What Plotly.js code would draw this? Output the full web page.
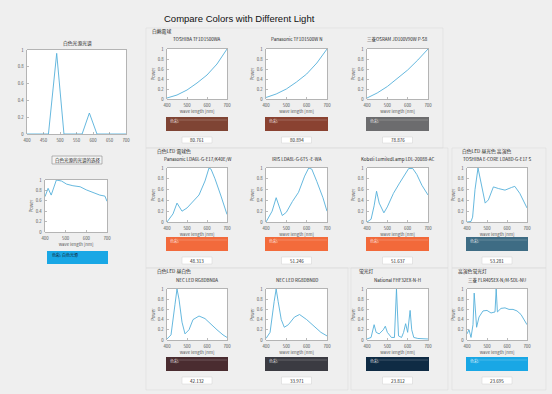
<!DOCTYPE html>
<html><head><meta charset="utf-8">
<script src="https://cdn.plot.ly/plotly-3.0.1.min.js"></script>
<style>html,body{margin:0;padding:0;background:#efefef;}#chart{width:552px;height:394px;}</style>
</head><body><div id="chart"></div>
<script>
// ---------------- DATA ----------------
const srcWl  = [400,465,490,512,567,589,612,700];
const srcPow = [0,0,0.96,0,0,0.25,0,0];

const whiteWl  = [400,415,430,455,480,505,535,570,600,630,665,690,700];
const whitePow = [0.68,0.84,0.71,1.0,0.98,0.92,0.89,0.87,0.81,0.76,0.71,0.69,0.59];

const incWl = [400,450,500,550,600,650,700];
const incToshiba   = [0.02,0.08,0.18,0.32,0.48,0.70,1.0];
const incPanasonic = [0.03,0.10,0.20,0.34,0.50,0.72,1.0];
const incMitsu     = [0.02,0.12,0.25,0.41,0.58,0.78,1.0];

const led1Wl  = [400,430,450,460,475,500,530,560,590,610,620,640,670,700];
const led1Pow = [0,0.15,0.35,0.28,0.2,0.26,0.38,0.5,0.76,1.0,0.98,0.8,0.48,0.14];
const led2Wl  = [400,430,450,465,480,500,530,560,590,610,625,650,680,700];
const led2Pow = [0,0.2,0.45,0.3,0.12,0.18,0.38,0.55,0.85,1.0,0.98,0.75,0.45,0.2];
const led3Wl  = [400,420,435,447,460,483,500,530,560,590,605,625,645,670,700];
const led3Pow = [0,0.05,0.3,0.57,0.35,0.17,0.28,0.53,0.72,0.9,0.99,0.99,0.88,0.68,0.5];
const led4Wl  = [400,420,428,440,455,474,491,507,532,557,590,623,639,664,700];
const led4Pow = [0,0.01,0.09,0.6,1.0,0.65,0.35,0.41,0.65,0.62,0.59,0.64,0.66,0.53,0.26];

const nw1Wl  = [400,420,440,450,460,475,490,510,530,560,590,620,650,680,700];
const nw1Pow = [0.02,0.1,0.7,1.0,0.8,0.35,0.12,0.2,0.4,0.47,0.42,0.3,0.2,0.1,0.05];
const nw2Wl  = [400,420,440,450,460,475,490,510,540,565,600,640,670,700];
const nw2Pow = [0.03,0.15,0.75,1.0,0.75,0.4,0.25,0.3,0.45,0.5,0.4,0.25,0.15,0.08];

const flWl  = [400,420,435,445,460,480,490,500,520,535,545,555,570,580,590,600,612,620,630,650,700];
const flPow = [0.02,0.05,0.3,0.15,0.12,0.2,0.27,0.15,0.05,0.05,1.0,0.08,0.05,0.15,0.32,0.15,0.58,0.2,0.05,0.03,0.02];
const hfWl  = [400,410,420,430,436,442,448,460,480,500,520,540,546,552,570,590,610,630,650,670,690,700];
const hfPow = [0.12,0.2,0.05,0.3,0.92,0.5,0.25,0.45,0.57,0.58,0.53,0.55,1.0,0.55,0.62,0.63,0.6,0.6,0.57,0.5,0.38,0.3];

const groupLabels = ['白熱電球','白色LED 電球色','白色LED 昼光色 高演色','白色LED 昼白色','蛍光灯','高演色蛍光灯'];
const chartTitles = ['TOSHIBA TF1D1500WA','Panasonic TF1D1500W N','三菱OSRAM JD100V90W P-S8',
  'Panasonic LDA6L-G-E17/K40E/W','IRIS LDA8L-G-6T5 -E-WA','Kobeli LumiledLamp LDL-20088-AC',
  'TOSHIBA E-CORE LDA8D-G-E17 S',
  'NEC LED RG8DBN0A','NEC LED RG8DBN0D','National FHF32EX-N-H','三菱 FLR40SEX-N/M-SDL-NU'];
const colorValues = ['80.761','80.894','78.876','48.313','51.246','51.637','53.281','42.132','33.971','23.812','23.695'];
const swatchColors = ['#7f4434','#8a4231','#6c6c6e','#f26a3c','#f36b3b','#f2693a','#3e6c84','#4a2c30','#3b3b42','#0f2b44','#19a7e5'];
const xTicks = [400,500,600,700];
const xTicksSrc = [400,450,500,550,600,650,700];
const yTicks = [0,0.2,0.4,0.6,0.8,1];
const yTickText = ['0','0.2','0.4','0.6','0.8','1'];

// ---------------- LAYOUT ----------------
const W=552,H=394;
const FONT='Noto Sans CJK JP, Liberation Sans, sans-serif';
const LINE='#55b0da';
const px=(x)=>x/W, py=(y)=>1-y/H;

const series = [
  [srcWl,srcPow],[whiteWl,whitePow],
  [incWl,incToshiba],[incWl,incPanasonic],[incWl,incMitsu],
  [led1Wl,led1Pow],[led2Wl,led2Pow],[led3Wl,led3Pow],[led4Wl,led4Pow],
  [nw1Wl,nw1Pow],[nw2Wl,nw2Pow],[flWl,flPow],[hfWl,hfPow]
];
const colsX=[[167,227],[266,327],[367,428],[467,527]];
const rowsY=[[49,99],[168,222],[289,340]];
const boxes=[
  {x:[27,126],y:[50,134],src:true},
  {x:[45,107],y:[180,232]},
  {x:colsX[0],y:rowsY[0]},{x:colsX[1],y:rowsY[0]},{x:colsX[2],y:rowsY[0]},
  {x:colsX[0],y:rowsY[1]},{x:colsX[1],y:rowsY[1]},{x:colsX[2],y:rowsY[1]},{x:colsX[3],y:rowsY[1]},
  {x:colsX[0],y:rowsY[2]},{x:colsX[1],y:rowsY[2]},{x:colsX[2],y:rowsY[2]},{x:colsX[3],y:rowsY[2]}
];

const traces=[];
const layout={
  width:W,height:H,margin:{l:0,r:0,t:0,b:0},
  paper_bgcolor:'#efefef',plot_bgcolor:'#ffffff',showlegend:false,
  font:{family:FONT,color:'#333'},
  shapes:[],annotations:[]
};
const tf={size:4.3,color:'#555',family:FONT};
boxes.forEach((b,i)=>{
  const n=i===0?'':String(i+1);
  traces.push({x:series[i][0],y:series[i][1],xaxis:'x'+n,yaxis:'y'+n,mode:'lines',
    line:{color:LINE,width:0.9},hoverinfo:'skip'});
  const common={showline:true,mirror:true,linecolor:'#7a7a7a',linewidth:0.5,showgrid:false,zeroline:false,
    ticks:'inside',ticklen:2,tickwidth:0.5,tickcolor:'#777',tickfont:tf,fixedrange:true,automargin:false};
  layout['xaxis'+n]=Object.assign({},common,{domain:[px(b.x[0]),px(b.x[1])],range:[400,700],
    tickvals:b.src?xTicksSrc:xTicks,anchor:'y'+n,ticklabelstandoff:2,
    title:b.src?{text:''}:{text:'wave length [nm]',font:tf,standoff:1}});
  layout['yaxis'+n]=Object.assign({},common,{domain:[py(b.y[1]),py(b.y[0])],range:[0,1],
    tickvals:yTicks,ticktext:yTickText,anchor:'x'+n,ticklabelstandoff:2,
    title:b.src?{text:''}:{text:'Power',font:tf,standoff:1}});
});

function ann(x,y,text,size,opts){
  layout.annotations.push(Object.assign({x:px(x),y:py(y),xref:'paper',yref:'paper',text:text,showarrow:false,
    font:{size:size,family:FONT,color:'#222'},xanchor:'center',yanchor:'middle'},opts||{}));
}
function rect(x0,y0,x1,y1,fill,line,lw){
  layout.shapes.push({type:'rect',xref:'paper',yref:'paper',x0:px(x0),x1:px(x1),y0:py(y1),y1:py(y0),
    fillcolor:fill,line:{color:line||'rgba(0,0,0,0)',width:lw||0},layer:'below'});
}

// panels
[[146,28,443,148],[146,148,448,268],[452,148,546,268],[146,268,348,390],[351,268,448,390],[452,268,546,390]]
  .forEach(r=>rect(r[0],r[1],r[2],r[3],'rgba(0,0,0,0)','#dcdcdc',0.6));

// main title
ann(239,18,'Compare Colors with Different Light',9.5,{font:{size:9.5,family:'Liberation Sans, sans-serif',color:'#111'}});
// left
ann(77,43,'白色光源光谱',4.8);
rect(52,156,102,164,'#f4f4f4','#888',0.6);
ann(77,160,'白色光源的光谱的选择',4.5);
rect(47,251,108,264,'#19a7e5');
ann(50,255,'色彩: 白色光源',4,{xanchor:'left',font:{size:4,family:FONT,color:'#123'}});

// group labels
ann(150,31,groupLabels[0],4.8,{xanchor:'left'});
ann(155,151,groupLabels[1],4.8,{xanchor:'left'});
ann(460,151,groupLabels[2],4.8,{xanchor:'left'});
ann(155,271,groupLabels[3],4.8,{xanchor:'left'});
ann(357,271,groupLabels[4],4.8,{xanchor:'left'});
ann(456,271,groupLabels[5],4.8,{xanchor:'left'});

// chart titles, swatches, value boxes
const titleY=[39,159,280], barY=[[117,131],[237,251],[357,371]], valY=[[137,143],[257,264],[377,384]];
const slots=[[0,0],[0,1],[0,2],[1,0],[1,1],[1,2],[1,3],[2,0],[2,1],[2,2],[2,3]];
slots.forEach((s,k)=>{
  const r=s[0],c=s[1];
  const cx=(colsX[c][0]+colsX[c][1])/2;
  ann(cx,titleY[r],chartTitles[k],4.5);
  rect(colsX[c][0]-1,barY[r][0],colsX[c][1]+1,barY[r][1],swatchColors[k]);
  layout.shapes.push({type:'line',xref:'paper',yref:'paper',x0:px(colsX[c][0]+10),x1:px(colsX[c][1]),
    y0:py(barY[r][0]+3),y1:py(barY[r][0]+3),line:{color:'rgba(255,255,255,0.35)',width:0.6}});
  ann(colsX[c][0]+1,barY[r][0]+3.5,'色彩:',4,{xanchor:'left',font:{size:4,family:FONT,color:'rgba(255,255,255,0.8)'}});
  rect(cx-15,valY[r][0],cx+15,valY[r][1],'#ffffff','#d0d0d0',0.5);
  ann(cx,(valY[r][0]+valY[r][1])/2,colorValues[k],4.5);
});

Plotly.newPlot('chart',traces,layout,{staticPlot:true,displayModeBar:false});
</script></body></html>
